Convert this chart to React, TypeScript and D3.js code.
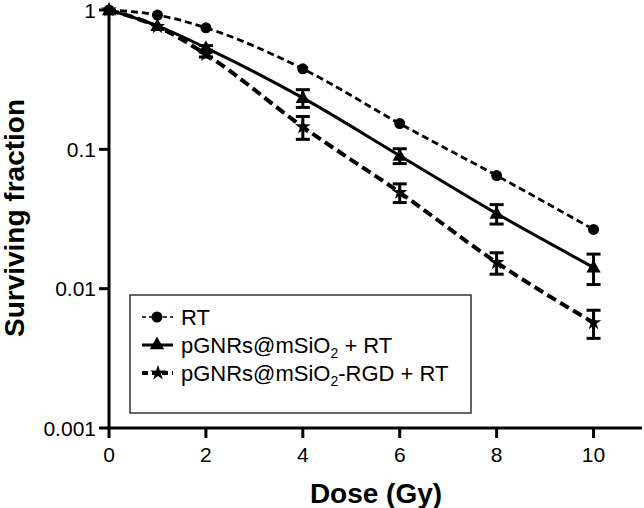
import React from "react";
import * as d3 from "d3";

const doses = [0, 1, 2, 4, 6, 8, 10];
const rtValues = [1, 0.92, 0.745, 0.378, 0.153, 0.0648, 0.0266];
const rtErr = [0, 0, 0, 0, 0, 0, 0];
const gnrValues = [1, 0.77, 0.535, 0.234, 0.09, 0.0346, 0.0142];
const gnrErr = [0, 0, 0.02, 0.034, 0.011, 0.0055, 0.0035];
const rgdValues = [1, 0.76, 0.48, 0.145, 0.049, 0.0154, 0.0057];
const rgdErr = [0, 0, 0.02, 0.027, 0.0075, 0.0027, 0.0013];
const xTicks = [0, 2, 4, 6, 8, 10];
const yTicks = [1, 0.1, 0.01, 0.001];
const yTickLabels = ["1", "0.1", "0.01", "0.001"];

const W = 644;
const H = 508;
const FONT = "'Liberation Sans', Arial, Helvetica, sans-serif";

const x = d3.scaleLinear().domain([0, 11]).range([109, 642]);
const y = d3.scaleLog().domain([0.001, 1]).range([428, 10]);

type Series = {
  name: string;
  values: number[];
  err: number[];
  marker: "circle" | "triangle" | "star";
  dash: string | null;
  width: number;
};

const series: Series[] = [
  { name: "RT", values: rtValues, err: rtErr, marker: "circle", dash: "7,4", width: 2.8 },
  { name: "gnr", values: gnrValues, err: gnrErr, marker: "triangle", dash: null, width: 3 },
  { name: "rgd", values: rgdValues, err: rgdErr, marker: "star", dash: "10,5", width: 4 },
];

const starPath = d3.symbol().type(d3.symbolStar).size(75)() as string;
const triPath = d3.symbol().type(d3.symbolTriangle).size(90)() as string;

function Marker({ kind, cx, cy }: { kind: string; cx: number; cy: number }) {
  if (kind === "circle") return <circle cx={cx} cy={cy} r={5.5} fill="#000" />;
  if (kind === "triangle")
    return <path d={triPath} transform={`translate(${cx},${cy + 1})`} fill="#000" />;
  return <path d={starPath} transform={`translate(${cx},${cy})`} fill="#000" />;
}

export default function App() {
  const line = d3
    .line<number>()
    .x((_, i) => x(doses[i]))
    .y((v) => y(v))
    .curve(d3.curveMonotoneX);

  return (
    <svg
      width={W}
      height={H}
      style={{ position: "absolute", left: 0, top: 0, background: "#fff" }}
      fontFamily={FONT}
    >
      <rect width={W} height={H} fill="#fff" />
      {/* axes */}
      <line x1={x(0)} x2={x(0)} y1={y(1) - 1} y2={y(0.001) + 1.5} stroke="#000" strokeWidth={3} />
      <line x1={x(0) - 1.5} x2={x(11)} y1={y(0.001)} y2={y(0.001)} stroke="#000" strokeWidth={3} />
      {xTicks.map((t) => (
        <g key={"x" + t}>
          <line x1={x(t)} x2={x(t)} y1={y(0.001)} y2={y(0.001) + 10} stroke="#000" strokeWidth={3} />
          <text x={x(t)} y={462} fontSize={21} textAnchor="middle" fill="#000">
            {t}
          </text>
        </g>
      ))}
      {yTicks.map((t, i) => (
        <g key={"y" + t}>
          <line x1={x(0) - 10} x2={x(0)} y1={y(t)} y2={y(t)} stroke="#000" strokeWidth={3} />
          <text x={96} y={y(t) + 7.5} fontSize={21} textAnchor="end" fill="#000">
            {yTickLabels[i]}
          </text>
        </g>
      ))}
      <text x={376} y={503} fontSize={28} fontWeight="bold" textAnchor="middle" fill="#000">
        Dose (Gy)
      </text>
      <text
        transform={`translate(24,218) rotate(-90)`}
        fontSize={28}
        fontWeight="bold"
        textAnchor="middle"
        fill="#000"
      >
        Surviving fraction
      </text>

      {/* series */}
      {series.map((s) => (
        <g key={s.name}>
          <path
            d={line(s.values) as string}
            fill="none"
            stroke="#000"
            strokeWidth={s.width}
            strokeDasharray={s.dash ?? undefined}
          />
          {s.values.map((v, i) => {
            const e = s.err[i];
            const cx = x(doses[i]);
            return (
              <g key={i}>
                {e > 0 && (
                  <g stroke="#000" strokeWidth={3}>
                    <line x1={cx} x2={cx} y1={y(v + e)} y2={y(v - e)} />
                    <line x1={cx - 7} x2={cx + 7} y1={y(v + e)} y2={y(v + e)} />
                    <line x1={cx - 7} x2={cx + 7} y1={y(v - e)} y2={y(v - e)} />
                  </g>
                )}
                <Marker kind={s.marker} cx={cx} cy={y(v)} />
              </g>
            );
          })}
        </g>
      ))}

      {/* legend */}
      <rect x={130} y={295} width={341} height={118} fill="#fff" stroke="#333" strokeWidth={1.5} />
      <g>
        <line x1={142} x2={173} y1={317} y2={317} stroke="#000" strokeWidth={1.5} strokeDasharray="4,3" />
        <circle cx={157} cy={317} r={5.5} fill="#000" />
        <text x={181} y={325} fontSize={22} fill="#000">RT</text>

        <line x1={142} x2={173} y1={345} y2={345} stroke="#000" strokeWidth={3} />
        <path d={triPath} transform="translate(157,345)" fill="#000" />
        <text x={181} y={353} fontSize={22} fill="#000">
          pGNRs@mSiO<tspan fontSize={14} dy={5}>2</tspan>
          <tspan dy={-5}> + RT</tspan>
        </text>

        <line x1={142} x2={173} y1={373} y2={373} stroke="#000" strokeWidth={4} strokeDasharray="6,4" />
        <path d={starPath} transform="translate(158,373)" fill="#000" />
        <text x={181} y={381} fontSize={22} fill="#000">
          pGNRs@mSiO<tspan fontSize={14} dy={5}>2</tspan>
          <tspan dy={-5}>-RGD + RT</tspan>
        </text>
      </g>
    </svg>
  );
}
